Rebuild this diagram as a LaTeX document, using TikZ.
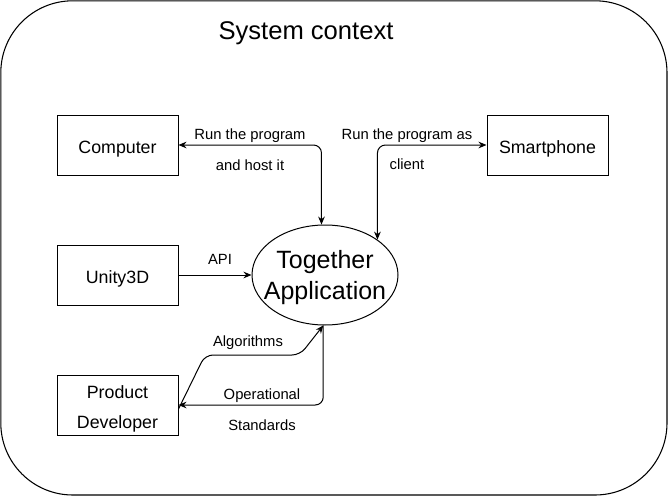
\documentclass[tikz,border=0pt]{standalone}
\usepackage{fontspec}
\setmainfont{Liberation Sans}
\usetikzlibrary{arrows.meta,shapes.geometric}

\tikzset{
  frame/.style={draw, line width=0.8pt, rounded corners=54pt},
  actor/.style={draw, line width=0.75pt, minimum width=90.75pt, minimum height=45pt,
    inner sep=0pt},
  actortext/.style={align=center, inner sep=0pt, font=\fontsize{13.35}{22.5}\selectfont},
  hub/.style={draw, ellipse, line width=0.75pt, minimum width=109.5pt, minimum height=75pt,
    inner sep=0pt},
  hubtext/.style={align=center, inner sep=0pt, font=\fontsize{18.75}{23.25}\selectfont},
  title/.style={font=\fontsize{19.2}{22}\selectfont},
  elabel/.style={font=\fontsize{11.1}{13}\selectfont, inner sep=0pt,
    text height=0.75em, text depth=0.25em},
  link/.style={line width=0.75pt, rounded corners=6pt},
  tip/.style={-{Stealth[length=6pt,width=5pt]}},
  tips/.style={{Stealth[length=6pt,width=5pt]}-{Stealth[length=6pt,width=5pt]}},
}

\begin{document}
\begin{tikzpicture}[x=0.75pt,y=-0.75pt]
  \useasboundingbox (0,0) rectangle (668,496);

  % outer boundary of the system context
  \draw[frame] (0.8,0.8) rectangle (667,495);
  \node[title] (ttl) at (306,33) {System context};

  % actors around the application
  \node[actor] (comp)  at (117.5,145) {};
  \node[actor] (smart) at (547.5,145) {};
  \node[actor] (unity) at (117.5,275) {};
  \node[actor] (dev)   at (117.5,405) {};
  \node[actortext] (compt)  at ([yshift=-3pt]comp.center)  {Computer};
  \node[actortext] (smartt) at ([yshift=-3pt]smart.center) {Smartphone};
  \node[actortext] (unityt) at ([yshift=-3pt]unity.center) {Unity3D};
  \node[actortext] (devt)   at ([yshift=-3pt]dev.center)   {Product\\Developer};

  % the application itself
  \node[hub] (app) at (325,275) {};
  \node[hubtext] (appt) at ([yshift=-2pt]app.center) {Together\\Application};

  % connectors
  \draw[link,tips] (comp.east) -| (app.94);
  \draw[link,tips] (smart.west) -| (app.34);
  \draw[link,tip] (unity.east) -- (app.west);

  \coordinate (a1) at (205,355);
  \coordinate (a2) at (300,355);
  \draw[link,tip] ([yshift=-3pt]dev.east) -- (a1) -- (a2) -- (app.268);
  \draw[link,tip] (app.268) |- (dev.east);

  % connector labels
  \node[elabel] (l1a) at (250,136) {Run the program};
  \node[elabel] (l1b) at (250,167) {and host it};
  \node[elabel] (l2a) at (407,136) {Run the program as};
  \node[elabel] (l2b) at (407,166) {client};
  \node[elabel] (l3)  at (220,261) {API};
  \node[elabel] (l4)  at (248,343) {Algorithms};
  \node[elabel] (l5a) at (262,396) {Operational};
  \node[elabel] (l5b) at (262,427) {Standards};
\end{tikzpicture}
\end{document}
